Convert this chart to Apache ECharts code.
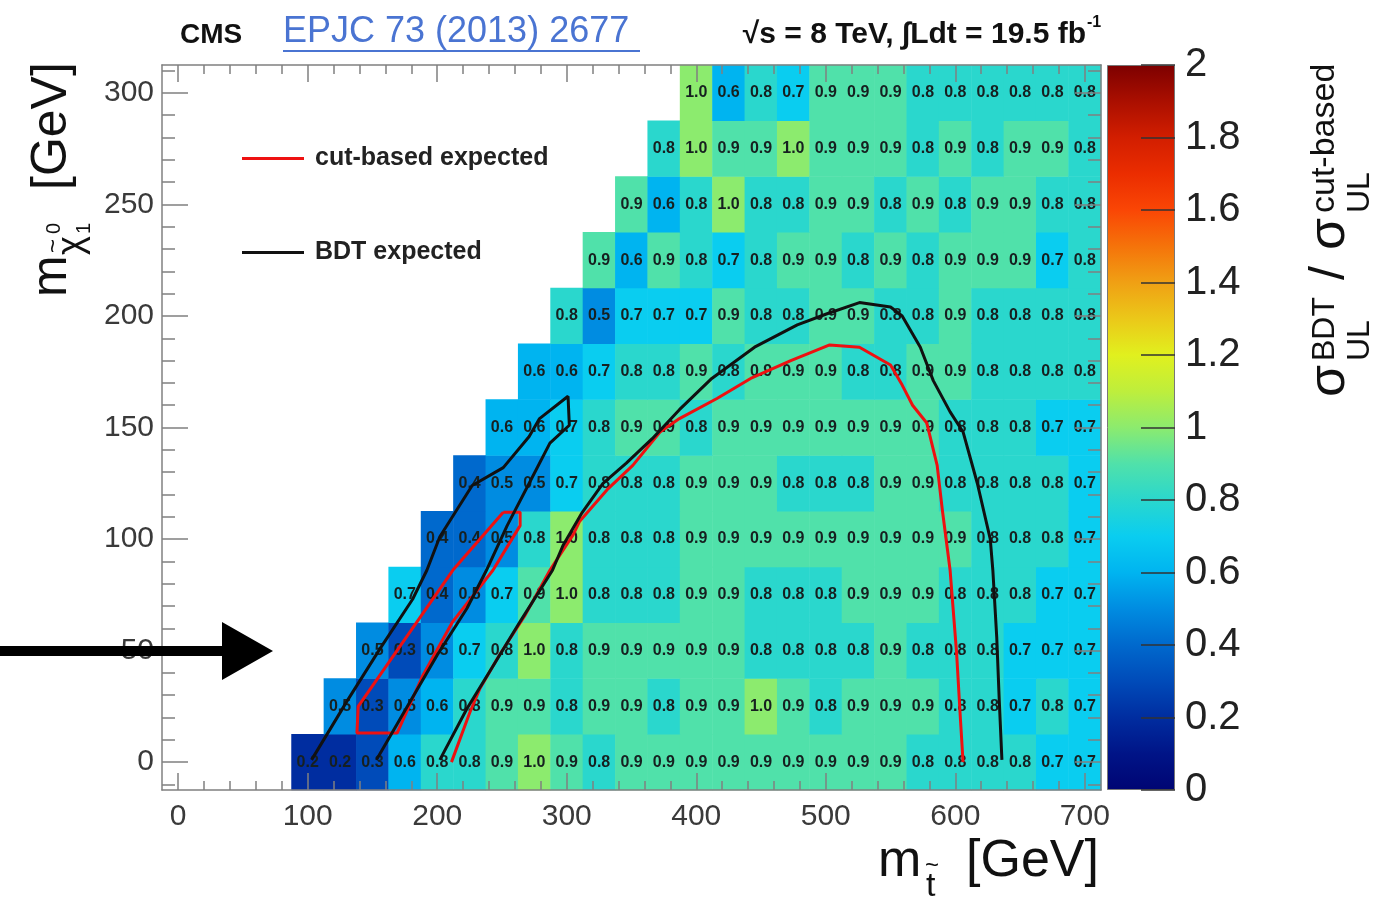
<!DOCTYPE html>
<html>
<head>
<meta charset="utf-8">
<script src="https://cdn.jsdelivr.net/npm/echarts@6/dist/echarts.min.js"></script>
<style>
  html, body { margin: 0; padding: 0; background: #ffffff; }
  #chart { width: 1392px; height: 899px; }
</style>
</head>
<body>
<div id="chart"></div>
<script>
// ---- bins (GeV): 25 GeV wide, listed by bin centre ----
const stopMass = [0, 25, 50, 75, 100, 125, 150, 175, 200, 225, 250, 275, 300, 325, 350,
  375, 400, 425, 450, 475, 500, 525, 550, 575, 600, 625, 650, 675, 700];
const lspMass = [0, 25, 50, 75, 100, 125, 150, 175, 200, 225, 250, 275, 300];
// first filled stop-mass bin of each LSP row
const rowFirstStop = [100, 125, 150, 175, 200, 225, 250, 275, 300, 325, 350, 375, 400];

// ---- sigma_UL(BDT) / sigma_UL(cut-based), one array per LSP row ----
const r000 = [0.2, 0.2, 0.3, 0.6, 0.8, 0.8, 0.9, 1.0, 0.9, 0.8, 0.9, 0.9, 0.9, 0.9, 0.9, 0.9, 0.9, 0.9, 0.9, 0.8, 0.8, 0.8, 0.8, 0.7, 0.7];
const r025 = [0.5, 0.3, 0.5, 0.6, 0.8, 0.9, 0.9, 0.8, 0.9, 0.9, 0.8, 0.9, 0.9, 1.0, 0.9, 0.8, 0.9, 0.9, 0.9, 0.8, 0.8, 0.7, 0.8, 0.7];
const r050 = [0.5, 0.3, 0.5, 0.7, 0.8, 1.0, 0.8, 0.9, 0.9, 0.9, 0.9, 0.9, 0.8, 0.8, 0.8, 0.8, 0.9, 0.8, 0.8, 0.8, 0.7, 0.7, 0.7];
const r075 = [0.7, 0.4, 0.5, 0.7, 0.9, 1.0, 0.8, 0.8, 0.8, 0.9, 0.9, 0.8, 0.8, 0.8, 0.9, 0.9, 0.9, 0.8, 0.8, 0.8, 0.7, 0.7];
const r100 = [0.4, 0.4, 0.5, 0.8, 1.0, 0.8, 0.8, 0.8, 0.9, 0.9, 0.9, 0.9, 0.9, 0.9, 0.9, 0.9, 0.9, 0.8, 0.8, 0.8, 0.7];
const r125 = [0.4, 0.5, 0.5, 0.7, 0.8, 0.8, 0.8, 0.9, 0.9, 0.9, 0.8, 0.8, 0.8, 0.9, 0.9, 0.8, 0.8, 0.8, 0.8, 0.7];
const r150 = [0.6, 0.6, 0.7, 0.8, 0.9, 0.9, 0.8, 0.9, 0.9, 0.9, 0.9, 0.9, 0.9, 0.9, 0.8, 0.8, 0.8, 0.7, 0.7];
const r175 = [0.6, 0.6, 0.7, 0.8, 0.8, 0.9, 0.8, 0.9, 0.9, 0.9, 0.8, 0.8, 0.9, 0.9, 0.8, 0.8, 0.8, 0.8];
const r200 = [0.8, 0.5, 0.7, 0.7, 0.7, 0.9, 0.8, 0.8, 0.9, 0.9, 0.8, 0.8, 0.9, 0.8, 0.8, 0.8, 0.8];
const r225 = [0.9, 0.6, 0.9, 0.8, 0.7, 0.8, 0.9, 0.9, 0.8, 0.9, 0.8, 0.9, 0.9, 0.9, 0.7, 0.8];
const r250 = [0.9, 0.6, 0.8, 1.0, 0.8, 0.8, 0.9, 0.9, 0.8, 0.9, 0.8, 0.9, 0.9, 0.8, 0.8];
const r275 = [0.8, 1.0, 0.9, 0.9, 1.0, 0.9, 0.9, 0.9, 0.8, 0.9, 0.8, 0.9, 0.9, 0.8];
const r300 = [1.0, 0.6, 0.8, 0.7, 0.9, 0.9, 0.9, 0.8, 0.8, 0.8, 0.8, 0.8, 0.8];
const ratioRows = [r000, r025, r050, r075, r100, r125, r150, r175, r200, r225, r250, r275, r300];

// ---- expected exclusion contours, [m_stop, m_LSP] in GeV ----
const cutBasedMain = [[211, 0], [225, 22], [233, 33], [248, 48], [268, 66], [287, 86], [305, 102], [310, 108],
  [331, 122], [351, 133], [372, 148], [387, 154], [416, 163], [442, 172], [473, 180], [503, 187], [526, 186],
  [550, 178], [559, 169], [567, 160], [578, 152], [586, 133], [590, 113], [596, 86], [601, 49], [604, 19], [606, 0]];
const cutBasedStrip = [[251, 112], [264, 112], [264, 106], [243, 86], [212, 63], [189, 39], [169, 13],
  [138, 13], [139, 25], [212, 86], [251, 112]];
const bdtMain = [[202, 1], [223, 24], [243, 43], [264, 63], [289, 86], [297, 97], [312, 112], [328, 125],
  [346, 134], [366, 145], [387, 158], [412, 172], [445, 186], [478, 196], [501, 201], [526, 206], [550, 204],
  [559, 200], [573, 186], [583, 171], [596, 157], [606, 148], [617, 125], [627, 100], [629, 86], [632, 56],
  [634, 27], [636, 1]];
const bdtStrip = [[103, 1], [130, 27], [156, 51], [181, 73], [192, 86], [202, 101], [227, 124], [251, 132],
  [271, 146], [279, 154], [301, 164], [302, 151], [287, 143], [271, 125], [254, 106], [238, 86], [223, 69],
  [200, 48], [176, 24], [153, 1]];

// ---- axis ticks ----
const xTickLabels = [0, 100, 200, 300, 400, 500, 600, 700];
const xMinorTicks = [0, 20, 40, 60, 80, 100, 120, 140, 160, 180, 200, 220, 240, 260, 280, 300, 320, 340,
  360, 380, 400, 420, 440, 460, 480, 500, 520, 540, 560, 580, 600, 620, 640, 660, 680, 700];
const yTickLabels = [0, 50, 100, 150, 200, 250, 300];
const yMinorTicks = [-10, 0, 10, 20, 30, 40, 50, 60, 70, 80, 90, 100, 110, 120, 130, 140, 150, 160, 170,
  180, 190, 200, 210, 220, 230, 240, 250, 260, 270, 280, 290, 300, 310];
const colorScaleMax = 2;

// rainbow palette, 0 -> 2 in steps of 0.1
const palette = ['#000573', '#001487', '#002da0', '#004bb9', '#0069cd', '#008ce1', '#00b4f0', '#0acdf0',
  '#2ad7cd', '#50e1aa', '#8ceb6e', '#beee3c', '#e1f01e', '#ebc819', '#f0a014', '#f5730a', '#fa4605',
  '#eb2d00', '#d21e00', '#aa0f00', '#7d0000'];

const FONT = 'Liberation Sans';
const GREY = '#808080';

// heatmap cells: [stop bin index, LSP bin index, ratio]
const heatData = [];
ratioRows.forEach((row, i) => {
  row.forEach((v, j) => {
    heatData.push([stopMass.indexOf(rowFirstStop[i] + 25 * j), i, v]);
  });
});

function frameX(position, ticks, len, labels, line) {
  return {
    type: 'value', gridIndex: 0, position, min: -12.5, max: 712.5, z: 10,
    splitLine: { show: false },
    axisLine: { show: line, onZero: false, lineStyle: { color: GREY, width: 1.5 } },
    axisTick: { show: true, inside: true, length: len, customValues: ticks, lineStyle: { color: GREY, width: 1.5 } },
    axisLabel: labels ? { show: true, customValues: xTickLabels, fontSize: 30, color: '#3a3a3a', fontFamily: FONT, margin: 12 } : { show: false }
  };
}
function frameY(position, ticks, len, labels, line) {
  return {
    type: 'value', gridIndex: 0, position, min: -12.5, max: 312.5, z: 10,
    splitLine: { show: false },
    axisLine: { show: line, onZero: false, lineStyle: { color: GREY, width: 1.5 } },
    axisTick: { show: true, inside: true, length: len, customValues: ticks, lineStyle: { color: GREY, width: 1.5 } },
    axisLabel: labels ? { show: true, customValues: yTickLabels, fontSize: 30, color: '#3a3a3a', fontFamily: FONT, margin: 8 } : { show: false }
  };
}

function txt(x, y, s, size, opts) {
  opts = opts || {};
  return {
    type: 'text', x, y,
    style: {
      text: s, fontSize: size, fontFamily: FONT, fontWeight: opts.bold ? 'bold' : 'normal',
      fill: opts.color || '#111111',
      align: opts.align || 'left', verticalAlign: 'middle',
      textAlign: opts.align || 'left', textVerticalAlign: 'middle'
    }
  };
}

const chart = echarts.init(document.getElementById('chart'), null, { renderer: 'canvas' });

chart.setOption({
  animation: false,
  backgroundColor: '#ffffff',
  grid: [
    { left: 162, top: 65, width: 939, height: 725 },
    { left: 1107, top: 65, width: 68, height: 725 }
  ],
  visualMap: {
    type: 'continuous', show: false, seriesIndex: 0, min: 0, max: colorScaleMax,
    inRange: { color: palette }
  },
  legend: {
    data: ['cut-based expected', 'BDT expected'],
    orient: 'vertical', left: 237, top: 141, itemWidth: 62, itemHeight: 3, itemGap: 69,
    icon: 'rect',
    selectedMode: false,
    textStyle: { fontSize: 25, fontWeight: 'bold', color: '#222222', fontFamily: FONT, padding: [0, 0, 0, 6] }
  },
  xAxis: [
    { type: 'category', gridIndex: 0, data: stopMass, show: false },
    frameX('bottom', xTickLabels, 17, true, true),
    frameX('bottom', xMinorTicks, 9, false, false),
    frameX('top', xTickLabels, 17, false, true),
    frameX('top', xMinorTicks, 9, false, false),
    { type: 'category', gridIndex: 1, data: [''], show: false }
  ],
  yAxis: [
    { type: 'category', gridIndex: 0, data: lspMass, show: false },
    frameY('left', yTickLabels, 26, true, true),
    frameY('left', yMinorTicks, 13, false, false),
    frameY('right', yTickLabels, 26, false, true),
    frameY('right', yMinorTicks, 13, false, false),
    {
      type: 'value', gridIndex: 1, position: 'right', min: 0, max: colorScaleMax, interval: 0.2, z: 10,
      splitLine: { show: false },
      axisLine: { show: false },
      axisTick: { show: true, inside: true, length: 34, lineStyle: { color: '#333333', width: 1.5 } },
      axisLabel: {
        fontSize: 40, color: '#222222', fontFamily: FONT, margin: 10,
        formatter: v => String(+Number(v).toFixed(1))
      }
    }
  ],
  series: [
    {
      type: 'heatmap', xAxisIndex: 0, yAxisIndex: 0, data: heatData, silent: true,
      emphasis: { disabled: true },
      label: {
        show: true, fontSize: 16, fontWeight: 'bold', fontFamily: FONT, color: '#162020',
        formatter: p => p.value[2].toFixed(1)
      }
    },
    {
      type: 'line', name: 'cut-based expected', xAxisIndex: 1, yAxisIndex: 1, data: cutBasedMain,
      symbol: 'none', silent: true, z: 5, lineStyle: { color: '#ee1111', width: 3 }, itemStyle: { color: '#ee1111' }
    },
    {
      type: 'line', name: 'cut-based expected', xAxisIndex: 1, yAxisIndex: 1, data: cutBasedStrip,
      symbol: 'none', silent: true, z: 5, lineStyle: { color: '#ee1111', width: 3 }, itemStyle: { color: '#ee1111' }
    },
    {
      type: 'line', name: 'BDT expected', xAxisIndex: 1, yAxisIndex: 1, data: bdtMain,
      symbol: 'none', silent: true, z: 6, lineStyle: { color: '#111111', width: 3 }, itemStyle: { color: '#111111' }
    },
    {
      type: 'line', name: 'BDT expected', xAxisIndex: 1, yAxisIndex: 1, data: bdtStrip,
      symbol: 'none', silent: true, z: 6, lineStyle: { color: '#111111', width: 3 }, itemStyle: { color: '#111111' }
    },
    {
      // colour scale bar
      type: 'bar', xAxisIndex: 5, yAxisIndex: 5, data: [colorScaleMax], barWidth: '100%', silent: true,
      itemStyle: {
        borderColor: '#777777', borderWidth: 1,
        color: new echarts.graphic.LinearGradient(0, 1, 0, 0,
          palette.map((c, i) => ({ offset: i / (palette.length - 1), color: c })))
      }
    }
  ],
  graphic: {
    elements: [
      // header
      txt(180, 35, 'CMS', 28, { bold: true }),
      txt(283, 32, 'EPJC 73 (2013) 2677', 36, { color: '#4a74d2' }),
      { type: 'line', shape: { x1: 283, y1: 51, x2: 640, y2: 51 }, style: { stroke: '#4a74d2', lineWidth: 2 } },
      txt(1086, 35, '\u221As = 8 TeV, \u222BLdt = 19.5 fb', 30, { bold: true, align: 'right' }),
      txt(1087, 23, '-1', 16, { bold: true }),
      // x axis title
      txt(878, 862, 'm', 52),
      txt(926, 887, 't', 34),
      txt(925, 866, '~', 24),
      txt(966, 862, '[GeV]', 52),
      // y axis title (rotated)
      {
        type: 'group', x: 52, y: 297, rotation: Math.PI / 2,
        children: [
          txt(0, 0, 'm', 50),
          txt(42, 20, '\u03C7', 36),
          txt(44, 2, '~', 24),
          txt(63, 2, '0', 20),
          txt(63, 32, '1', 20),
          txt(107, 0, '[GeV]', 50)
        ]
      },
      // colour scale title (rotated)
      {
        type: 'group', x: 1330, y: 397, rotation: Math.PI / 2,
        children: [
          txt(0, 0, '\u03C3', 52),
          txt(36, -5, 'BDT', 32),
          txt(36, 30, 'UL', 32),
          txt(117, 0, '/', 50),
          txt(147, 0, '\u03C3', 52),
          txt(184, -5, 'cut-based', 34),
          txt(184, 30, 'UL', 32)
        ]
      },
      // pointer arrow
      {
        type: 'polygon', z: 100,
        shape: { points: [[0, 646], [222, 646], [222, 622], [273, 651], [222, 680], [222, 656], [0, 656]] },
        style: { fill: '#000000' }
      }
    ]
  }
});
</script>
</body>
</html>
